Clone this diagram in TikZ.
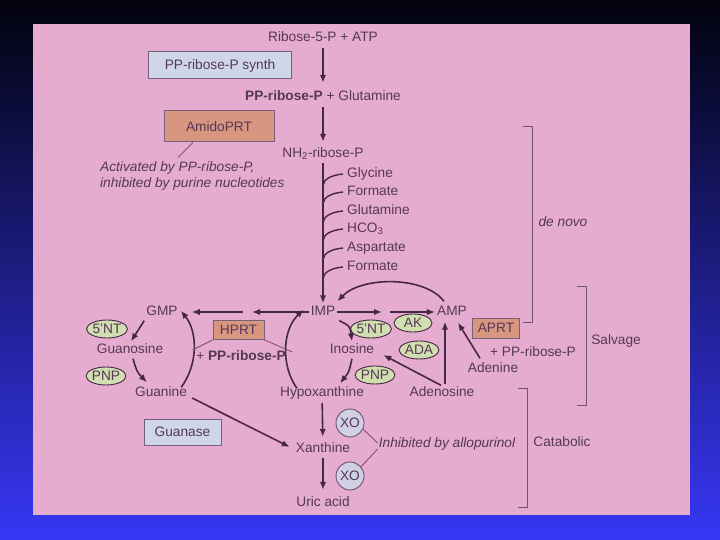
\documentclass[tikz,border=0pt]{standalone}
\usepackage{fontspec}
\setmainfont{Liberation Sans}
\usetikzlibrary{arrows.meta,positioning,calc,shapes.geometric}
\definecolor{bgtop}{RGB}{2,2,14}
\definecolor{bgmid}{RGB}{32,32,160}
\definecolor{bgbot}{RGB}{55,55,245}
\definecolor{pagepink}{RGB}{230,172,208}
\definecolor{inkpurple}{RGB}{84,56,86}
\definecolor{arrowink}{RGB}{70,40,70}
\definecolor{linkpink}{RGB}{140,80,115}
\definecolor{synthblue}{RGB}{208,214,234}
\definecolor{prtsalmon}{RGB}{216,150,128}
\definecolor{enzgreen}{RGB}{208,222,176}
\definecolor{xogray}{RGB}{208,208,228}
\newcommand{\diagfont}{\fontsize{13.7pt}{16pt}\selectfont}
\newcommand{\sidebracket}[3]{\draw[brk] (#1-9,#2) -| (#1,#3) -- (#1-9,#3);}
\tikzset{
	lbl/.style={font=\diagfont,text=inkpurple,inner sep=2pt,text height=10pt,text depth=3pt},
	enzbox/.style={lbl,draw=inkpurple!80,line width=1pt,inner sep=0pt,text height=9.8pt,text depth=0pt},
	enz/.style={lbl,ellipse,draw=arrowink,fill=enzgreen,line width=0.9pt,inner sep=0pt,text height=9.8pt,text depth=0pt,minimum width=38pt,minimum height=18pt},
	xo/.style={lbl,circle,draw=arrowink!80,fill=xogray,line width=0.9pt,inner sep=0pt,text height=9.8pt,text depth=0pt,minimum size=28pt},
	arr/.style={draw=arrowink,line width=1.6pt,-{Latex[length=8pt,width=6.5pt]}},
	branch/.style={draw=arrowink,line width=1.4pt},
	link/.style={draw=linkpink,line width=0.9pt},
	brk/.style={draw=inkpurple!85,line width=1pt}
}
\begin{document}
\begin{tikzpicture}[x=1pt,y=-1pt]
	\useasboundingbox (0,0) rectangle (720,540);
	\shade[top color=bgtop,middle color=bgmid,bottom color=bgbot] (0,0) rectangle (720,540);
	\fill[pagepink] (33,24) rectangle (690,515);
	\node[lbl] (ribose) at (323,38) {Ribose-5-P + ATP};
	\node[lbl] (prpp) at (323,97) {\textbf{PP-ribose-P} + Glutamine};
	\node[lbl] (nhrib) at (323,154) {NH\textsubscript{2}-ribose-P};
	\node[enzbox,fill=synthblue,minimum width=143pt,minimum height=27pt] (synth) at (220,65) {PP-ribose-P synth};
	\node[enzbox,fill=prtsalmon,minimum width=110pt,minimum height=31pt] (amido) at (219,126.5) {AmidoPRT};
	\node[font=\diagfont\itshape,text=inkpurple,align=left,inner sep=0pt,anchor=west] (actnote) at (100,176) {Activated by PP-ribose-P,\\inhibited by purine nucleotides};
	\node[lbl,anchor=west] (gly) at (345,174) {Glycine};
	\node[lbl,anchor=west] (fmta) at (345,192) {Formate};
	\node[lbl,anchor=west] (gln) at (345,211) {Glutamine};
	\node[lbl,anchor=west] (hco) at (345,229) {HCO\textsubscript{3}};
	\node[lbl,anchor=west] (asp) at (345,248) {Aspartate};
	\node[lbl,anchor=west] (fmtb) at (345,267) {Formate};
	\node[lbl] (gmp) at (162,312) {GMP};
	\node[lbl] (imp) at (323,312) {IMP};
	\node[lbl] (amp) at (452,312) {AMP};
	\node[lbl] (guo) at (130,350) {Guanosine};
	\node[lbl] (gua) at (161,393) {Guanine};
	\node[lbl] (ino) at (352,350) {Inosine};
	\node[lbl] (hyp) at (322,393) {Hypoxanthine};
	\node[lbl] (ado) at (442,393) {Adenosine};
	\node[lbl] (ade) at (493,369) {Adenine};
	\node[lbl] (xan) at (323,449) {Xanthine};
	\node[lbl] (uric) at (323,503) {Uric acid};
	\node[enz] (ntg) at (107,329) {5'NT};
	\node[enz] (pnpg) at (106,376) {PNP};
	\node[enz] (nti) at (371,329) {5'NT};
	\node[enz] (ak) at (413,323) {AK};
	\node[enz] (ada) at (419,350) {ADA};
	\node[enz] (pnpi) at (375,375) {PNP};
	\node[enzbox,fill=prtsalmon,minimum width=51pt,minimum height=19pt] (hprt) at (238.5,330) {HPRT};
	\node[enzbox,fill=prtsalmon,minimum width=47pt,minimum height=20pt] (aprt) at (496,328) {APRT};
	\node[enzbox,fill=synthblue,minimum width=77pt,minimum height=26pt] (guanase) at (182.5,432) {Guanase};
	\node[lbl] (hplus) at (241,357) {+ \textbf{PP-ribose-P}};
	\node[lbl] (aplus) at (533,353) {+ PP-ribose-P};
	\node[xo] (xoa) at (350,423) {XO};
	\node[xo] (xob) at (350,476) {XO};
	\node[lbl,font=\diagfont\itshape] (allo) at (447,444) {Inhibited by allopurinol};
	\node[lbl,font=\diagfont\itshape] (denovo) at (563,223) {de novo};
	\node[lbl] (salv) at (616,341) {Salvage};
	\node[lbl] (catab) at (562,443) {Catabolic};
	\coordinate (midga) at (252,312);
	\coordinate (midgb) at (243,312);
	\coordinate (midaa) at (382,312);
	\coordinate (midab) at (390,312);
	\draw[arr,shorten <=1.5pt,shorten >=5.5pt] (ribose) -- (prpp);
	\draw[arr,shorten <=1.5pt,shorten >=3.5pt] (prpp) -- (nhrib);
	\draw[arr] (nhrib) -- (imp);
	\foreach \s in {gly,fmta,gln,hco,asp,fmtb}
		\draw[branch] ($(\s.west)+(-2,0)$) .. controls +(-11,1) and +(0,-7) .. ($(\s.west)+(-22,12)$);
	\draw[arr] (imp) -- (midga);
	\draw[arr,shorten >=12pt] (midgb) -- (gmp);
	\draw[arr] (imp) -- (midaa);
	\draw[arr] (midab) -- (amp);
	\draw[arr] ($(amp.north west)+(9,-2)$) .. controls (425,276) and (362,276) .. ($(imp.north east)+(0,-2)$);
	\draw[arr] (gmp.south west) -- ($(guo.north)+(1,0)$);
	\draw[arr] ($(guo.south)+(3,0)$) .. controls (137,372) .. ($(gua.north west)+(14,-2)$);
	\draw[arr] ($(gua.north east)+(-8,3)$) .. controls (198,365) and (198,332) .. ($(gmp.south east)+(1,-10)$);
	\draw[arr] ($(hyp.north west)+(19,4)$) .. controls (281,366) and (282,330) .. ($(imp.south west)+(-5,-11)$);
	\draw[link] (hprt.south west) -- ++(-20,10);
	\draw[link] (hprt.south east) -- ++(28,12);
	\draw[link] ($(amido.south)+(-26,0)$) -- ++(-15,15);
	\draw[arr] ($(imp.south east)+(2,0)$) .. controls (350,326) .. (ino.north);
	\draw[arr] (ino.south) .. controls (349,372) .. ($(hyp.north)+(18,-1)$);
	\draw[arr] ($(ado.north)+(-1,1)$) -- ($(ino.east)+(7,5)$);
	\draw[arr] ($(ado.north)+(3,0)$) -- ($(amp.south)+(-7,1)$);
	\draw[arr] ($(ade.north)+(-13,-2)$) -- ($(amp.south)+(6,2)$);
	\draw[arr] ($(gua.east)+(3,5)$) -- ($(xan.west)+(-4,-2)$);
	\draw[arr,shorten <=1.5pt,shorten >=3.5pt] (hyp) -- (xan);
	\draw[arr,shorten >=4.5pt] (xan) -- (uric);
	\draw[link] (xoa.-25) -- ($(allo.west)+(1,-1)$);
	\draw[link] (xob.40) -- ($(allo.west)+(1,5)$);
	\sidebracket{532}{127}{322}
	\sidebracket{586}{286}{405}
	\sidebracket{527}{388}{507}
\end{tikzpicture}
\end{document}
